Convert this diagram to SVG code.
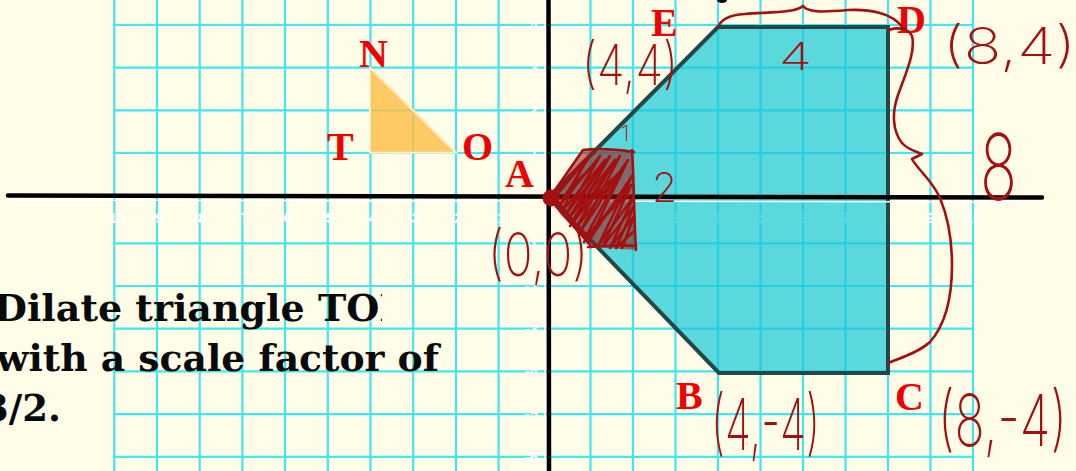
<svg xmlns="http://www.w3.org/2000/svg" width="1076" height="471" viewBox="0 0 1076 471">
<style>
.grid{fill:none;stroke:#40e6f0;stroke-width:2.2}
.axis{stroke:#000;stroke-width:4.5;stroke-linecap:round}
.axhl{stroke:#fff;stroke-width:1.6}
.tick{font-family:"Liberation Sans",Arial,sans-serif;font-weight:bold;font-size:15px;fill:#fff;text-anchor:middle}
.tickY{font-family:"Liberation Sans",Arial,sans-serif;font-weight:bold;font-size:15px;fill:#fff;text-anchor:end}
.lbl{font-family:"Liberation Serif","Times New Roman",serif;font-weight:bold;font-size:40px;fill:#f00000}
.prob{font-family:"DejaVu Serif",serif;font-weight:bold;font-size:37px;fill:#0a0a0a}
.hand{font-family:Inter,"Open Sans","DejaVu Sans",sans-serif;font-weight:200;fill:#a3100f}
.ink{fill:none;stroke:#a3100f;stroke-width:2.6;stroke-linecap:round;stroke-linejoin:round}
</style>
<defs>
<clipPath id="clipLine1"><rect x="-30" y="250" width="412" height="100"/></clipPath>
</defs>
<rect x="0" y="0" width="1076" height="471" fill="#fffde8"/>
<g id="grid">
<path class="grid" d="M114.3,0V471M157,0V471M199.7,0V471M242.4,0V471M285.1,0V471M327.8,0V471M370.5,0V471M413.2,0V471M455.9,0V471M498.6,0V471M590.5,0V471M633,0V471M675.5,0V471M718,0V471M760.5,0V471M803,0V471M845.5,0V471M888,0V471M930.5,0V471M973,0V471"/>
<path class="grid" d="M114,25H974M114,67.7H974M114,110.4H974M114,153H974M114,243.3H974M114,286H974M114,328.7H974M114,371.4H974M114,414.1H974M114,456.8H974"/>
</g>
<g id="ticks">
<text class="tick" x="114.3" y="223">-10</text>
<text class="tick" x="157" y="223">-9</text>
<text class="tick" x="199.7" y="223">-8</text>
<text class="tick" x="242.4" y="223">-7</text>
<text class="tick" x="285.1" y="223">-6</text>
<text class="tick" x="327.8" y="223">-5</text>
<text class="tick" x="370.5" y="223">-4</text>
<text class="tick" x="413.2" y="223">-3</text>
<text class="tick" x="455.9" y="223">-2</text>
<text class="tick" x="498.6" y="223">-1</text>
<text class="tick" x="590.5" y="223">1</text>
<text class="tick" x="633" y="223">2</text>
<text class="tick" x="675.5" y="223">3</text>
<text class="tick" x="718" y="223">4</text>
<text class="tick" x="760.5" y="223">5</text>
<text class="tick" x="803" y="223">6</text>
<text class="tick" x="845.5" y="223">7</text>
<text class="tick" x="888" y="223">8</text>
<text class="tick" x="930.5" y="223">9</text>
<text class="tick" x="973" y="223">10</text>
<text class="tickY" x="538" y="30">4</text>
<text class="tickY" x="538" y="73">3</text>
<text class="tickY" x="538" y="115">2</text>
<text class="tickY" x="538" y="158">1</text>
<text class="tickY" x="538" y="248">-1</text>
<text class="tickY" x="538" y="291">-2</text>
<text class="tickY" x="538" y="334">-3</text>
<text class="tickY" x="538" y="376">-4</text>
<text class="tickY" x="538" y="419">-5</text>
<text class="tickY" x="538" y="462">-6</text>
</g>
<g id="problem">
<text class="prob" x="-6" y="321" textLength="420" lengthAdjust="spacingAndGlyphs" clip-path="url(#clipLine1)">Dilate triangle TON</text>
<text class="prob" x="-4" y="371" textLength="443" lengthAdjust="spacingAndGlyphs">with a scale factor of</text>
<text class="prob" x="-17" y="421">3/2.</text>
</g>
<g id="pentagon">
<polygon points="549,197 718,27 888,27 888,373 719,373" fill="#14c8d7" fill-opacity="0.7" stroke="#24484a" stroke-width="4" stroke-linejoin="miter"/>
</g>
<g id="triangle">
<polygon points="370,67.7 370,152.7 456,152.7" fill="#ffbe46" fill-opacity="0.82" stroke="#fbefc8" stroke-width="2"/>
</g>
<g id="axes">
<line class="axhl" x1="8" y1="200" x2="1042" y2="202"/>
<line class="axhl" x1="545" y1="0" x2="545" y2="471"/>
<line class="axis" x1="8" y1="195.5" x2="1042" y2="197.5"/>
<line class="axis" x1="548.5" y1="-2" x2="549" y2="473"/>
<ellipse cx="722" cy="0" rx="5" ry="3" fill="#000"/>
</g>
<g id="labels">
<text class="lbl" x="359" y="67">N</text>
<text class="lbl" x="327" y="160">T</text>
<text class="lbl" x="462" y="160">O</text>
<text class="lbl" x="505" y="187">A</text>
<text class="lbl" x="651" y="36">E</text>
<text class="lbl" x="897" y="33">D</text>
<text class="lbl" x="895" y="410">C</text>
<text class="lbl" x="676" y="409">B</text>
</g>
<g id="annotations">
<path fill="#a3100f" fill-opacity="0.55" d="M551,197 L583,150 L632,152 L636,250 L592,247 L560,214 Z"/>
<path class="ink" d="M556,196 L590,155 L560,205 L600,156 L566,214 L610,156 L572,222 L620,156 L580,232 L628,160 L588,242 L632,176 L598,246 L634,196 L610,248 L634,216 L622,248"/>
<path class="ink" d="M558,190 L585,160 L563,210 L605,160 L569,218 L615,160 L576,228 L625,165 L585,238 L631,185 L603,246 L634,206 L616,248 L633,232"/>
<path class="ink" d="M562,200 C575,180 590,170 597,162 M570,226 C590,200 605,185 622,170 M584,242 C600,220 615,205 630,195"/>
<path class="ink" d="M583,150 C600,148 620,150 634,152 M632,150 C634,180 634,220 636,250 M636,246 C615,244 600,247 588,247 M553,193 L583,150"/>
<path class="ink" d="M553,203 L590,245 M556,199 L585,236"/>
<circle cx="551" cy="198" r="8.5" fill="#a3100f"/>
<path class="ink" d="M718,28 C720,20 728,15 745,14 C770,12 795,13 803,6 C808,13 825,12 848,10 C870,9 893,13 903,28"/>
<path class="ink" d="M888,31 C893,27 908,27 912,36 C916,52 905,75 898,95 C892,112 892,130 902,143 C908,150 918,152 922,154 L912,159 C918,170 932,180 940,198 C947,215 952,240 952,265 C952,300 945,325 930,342 C918,353 900,358 888,363"/>
<text class="hand" x="582" y="85" font-size="56" textLength="96" lengthAdjust="spacingAndGlyphs">(4,4)</text>
<text class="hand" x="779" y="70" font-size="38" textLength="33" lengthAdjust="spacingAndGlyphs">4</text>
<text class="hand" x="943" y="64" font-size="50" textLength="133" lengthAdjust="spacingAndGlyphs">(8,4)</text>
<text class="hand" x="980" y="200" font-size="92" font-weight="100" textLength="37" lengthAdjust="spacingAndGlyphs">8</text>
<text class="hand" x="652" y="202" font-size="41">2</text>
<text class="hand" x="621" y="141" font-size="22">1</text>
<text class="hand" x="488" y="276" font-size="60" textLength="100" lengthAdjust="spacingAndGlyphs">(0,0)</text>
<text class="hand" x="711" y="450" font-size="72" textLength="109" lengthAdjust="spacingAndGlyphs">(4,-4)</text>
<text class="hand" x="938" y="446" font-size="72" textLength="129" lengthAdjust="spacingAndGlyphs">(8,-4)</text>
</g>
</svg>
